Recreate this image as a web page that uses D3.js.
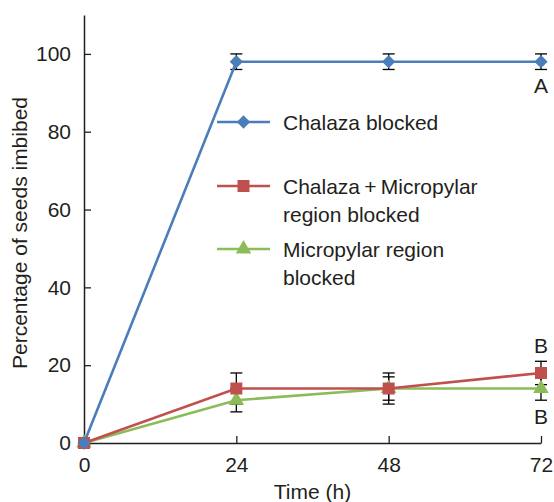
<!DOCTYPE html>
<html>
<head>
<meta charset="utf-8">
<script src="https://cdn.jsdelivr.net/npm/d3@7"></script>
<style>
  body { margin: 0; background: #fff; }
  text { font-family: "Liberation Sans", Arial, sans-serif; fill: #231f20; }
</style>
</head>
<body>
<div id="chart"></div>
<script>
// data
const hours = [0, 24, 48, 72];
const xTicks = [0, 24, 48, 72];
const yTicks = [0, 20, 40, 60, 80, 100];

const chalaza = [0, 98, 98, 98];
const chalazaErr = [0, 2, 2, 2];
const both = [0, 14, 14, 18];
const bothErr = [0, 4, 4, 3];
const micropylar = [0, 11, 14, 14];
const micropylarErr = [0, 3, 3, 3];

const seriesNames = [["Chalaza blocked"], ["Chalaza\u2009+\u2009Micropylar", "region blocked"], ["Micropylar region", "blocked"]];
const seriesColors = ["#4a7ebb", "#c0504d", "#8cbb5a"];

const width = 554, height = 502;
const margin = { top: 15, right: 13, bottom: 59, left: 84 };
const fontSize = "21px";

const svg = d3.select("#chart").append("svg")
  .attr("width", width)
  .attr("height", height);

const x = d3.scaleLinear().domain([0, 72]).range([margin.left, width - margin.right]);
const y = d3.scaleLinear().domain([0, 110]).range([height - margin.bottom, margin.top]);

const axisColor = "#231f20";

// x axis
const xAxis = svg.append("g")
  .attr("transform", `translate(0,${y(0)})`)
  .call(d3.axisBottom(x).tickValues(xTicks).tickSize(-7).tickPadding(14).tickSizeOuter(0));
xAxis.select(".domain").attr("stroke", axisColor).attr("stroke-width", 1.5);
xAxis.selectAll(".tick line").attr("stroke", axisColor).attr("stroke-width", 1.3);
xAxis.selectAll("text").style("font-size", fontSize).attr("fill", axisColor).attr("dy", "0.71em");

// y axis
const yAxis = svg.append("g")
  .attr("transform", `translate(${x(0)},0)`)
  .call(d3.axisLeft(y).tickValues(yTicks).tickSize(-7).tickPadding(13).tickSizeOuter(0));
yAxis.select(".domain").attr("stroke", axisColor).attr("stroke-width", 1.5);
yAxis.selectAll(".tick line").attr("stroke", axisColor).attr("stroke-width", 1.3);
yAxis.selectAll("text").style("font-size", fontSize).attr("fill", axisColor);

svg.append("text")
  .attr("transform", `translate(27,${(y(0) + y(110)) / 2 + 4}) rotate(-90)`)
  .attr("text-anchor", "middle")
  .style("font-size", fontSize)
  .text("Percentage of seeds imbibed");

svg.append("text")
  .attr("x", (x(0) + x(72)) / 2)
  .attr("y", 499)
  .attr("text-anchor", "middle")
  .style("font-size", fontSize)
  .text("Time (h)");

const series = [
  { values: chalaza, errs: chalazaErr },
  { values: both, errs: bothErr },
  { values: micropylar, errs: micropylarErr }
];

const line = d3.line().x((d, i) => x(hours[i])).y(d => y(d));

// error bars
series.forEach(s => {
  const g = svg.append("g").attr("stroke", "#000").attr("stroke-width", 1.3);
  s.values.forEach((v, i) => {
    if (!s.errs[i]) return;
    const cx = x(hours[i]);
    g.append("line").attr("x1", cx).attr("x2", cx).attr("y1", y(v - s.errs[i])).attr("y2", y(v + s.errs[i]));
    [v - s.errs[i], v + s.errs[i]].forEach(e => {
      g.append("line").attr("x1", cx - 6).attr("x2", cx + 6).attr("y1", y(e)).attr("y2", y(e));
    });
  });
});

// lines, drawn bottom series first so blue sits on top
[2, 1, 0].forEach(k => {
  svg.append("path")
    .datum(series[k].values)
    .attr("fill", "none")
    .attr("stroke", seriesColors[k])
    .attr("stroke-width", 2.6)
    .attr("d", line);
});

// markers: diamond is a square turned 45 degrees
const marker = k => {
  if (k === 0) return { d: d3.symbol(d3.symbolSquare, 88)(), rot: 45 };
  if (k === 1) return { d: d3.symbol(d3.symbolSquare, 144)(), rot: 0 };
  return { d: d3.symbol(d3.symbolTriangle, 105)(), rot: 0 };
};

[2, 1, 0].forEach(k => {
  const m = marker(k);
  svg.append("g").selectAll("path")
    .data(series[k].values)
    .join("path")
    .attr("transform", (d, i) => `translate(${x(hours[i])},${y(d)}) rotate(${m.rot})`)
    .attr("d", m.d)
    .attr("fill", seriesColors[k]);
});

// significance letters
svg.append("text").attr("x", x(72)).attr("y", 93).attr("text-anchor", "middle").style("font-size", fontSize).text("A");
svg.append("text").attr("x", x(72)).attr("y", 353).attr("text-anchor", "middle").style("font-size", fontSize).text("B");
svg.append("text").attr("x", x(72)).attr("y", 424).attr("text-anchor", "middle").style("font-size", fontSize).text("B");

// legend
const legendY = [122, 186, 249];
seriesNames.forEach((names, k) => {
  const g = svg.append("g").attr("transform", `translate(217,${legendY[k]})`);
  g.append("line").attr("x1", 0).attr("x2", 53).attr("stroke", seriesColors[k]).attr("stroke-width", 2.6);
  const m = marker(k);
  g.append("path")
    .attr("transform", `translate(26.5,0) rotate(${m.rot})`)
    .attr("d", m.d)
    .attr("fill", seriesColors[k]);
  names.forEach((t, j) => {
    g.append("text")
      .attr("x", 66)
      .attr("y", j * 28 + 1)
      .attr("dy", "0.35em")
      .style("font-size", fontSize)
      .text(t);
  });
});
</script>
</body>
</html>
